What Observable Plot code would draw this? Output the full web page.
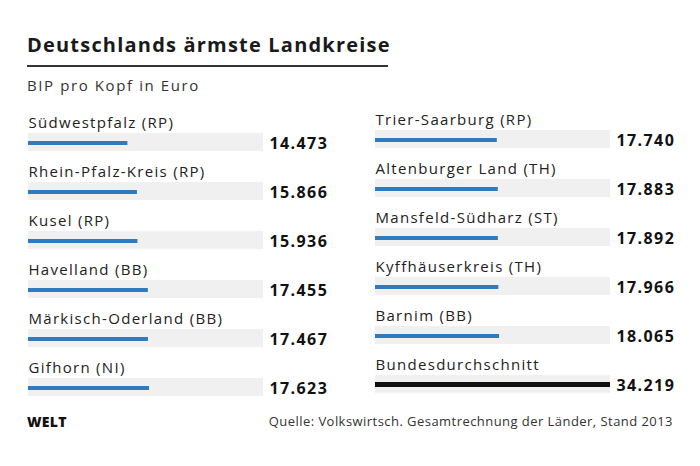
<!DOCTYPE html>
<html>
<head>
<meta charset="utf-8">
<script src="https://cdn.jsdelivr.net/npm/d3@7"></script>
<script src="https://cdn.jsdelivr.net/npm/@observablehq/plot@0.6"></script>
<style>
  html, body { margin: 0; padding: 0; background: #fff; }
  #wrap { position: relative; width: 700px; height: 466px; font-family: "Open Sans", sans-serif; color: #222; overflow: hidden; }
  #title { position: absolute; left: 27px; top: 33px; font-size: 20px; font-weight: 700; line-height: 24px; letter-spacing: 1.2px; white-space: nowrap; color: #1a1a1a; }
  #rule { position: absolute; left: 27px; top: 65px; width: 361px; height: 2px; background: #333; }
  #subtitle { position: absolute; left: 27px; top: 75px; font-size: 15px; line-height: 20px; letter-spacing: 1.6px; color: #333; white-space: nowrap; }
  #chart { position: absolute; left: 0; top: 100px; }
  #chart svg text { letter-spacing: 1.3px; }
  #chart svg g[font-weight="bold"] text { letter-spacing: 1.4px; }
  #logo { position: absolute; left: 27px; top: 414px; font-size: 14px; font-weight: 800; line-height: 16px; letter-spacing: 0.3px; color: #111; }
  #source { position: absolute; right: 27px; top: 413px; font-size: 13px; line-height: 16px; letter-spacing: 0.45px; color: #333; white-space: nowrap; }
</style>
</head>
<body>
<div id="wrap">
  <div id="title">Deutschlands ärmste Landkreise</div>
  <div id="rule"></div>
  <div id="subtitle">BIP pro Kopf in Euro</div>
  <div id="chart"></div>
  <div id="logo">WELT</div>
  <div id="source">Quelle: Volkswirtsch. Gesamtrechnung der Länder, Stand 2013</div>
</div>
<script>
const leftNames = ["Südwestpfalz (RP)", "Rhein-Pfalz-Kreis (RP)", "Kusel (RP)", "Havelland (BB)", "Märkisch-Oderland (BB)", "Gifhorn (NI)"];
const leftValues = [14473, 15866, 15936, 17455, 17467, 17623];
const rightNames = ["Trier-Saarburg (RP)", "Altenburger Land (TH)", "Mansfeld-Südharz (ST)", "Kyffhäuserkreis (TH)", "Barnim (BB)", "Bundesdurchschnitt"];
const rightValues = [17740, 17883, 17892, 17966, 18065, 34219];
const averageName = "Bundesdurchschnitt";

const rowsL = leftNames.map((name, i) => ({name, value: leftValues[i], col: 0, row: i}));
const rowsR = rightNames.map((name, i) => ({name, value: rightValues[i], col: 1, row: i}));
const maxValue = d3.max([...leftValues, ...rightValues]);

const fmt = d3.formatLocale({decimal: ",", thousands: ".", grouping: [3], currency: ["", "€"]}).format(",d");

function columnMarks(rows, off) {
  const normal = rows.filter(d => d.name !== averageName);
  const avg = rows.filter(d => d.name === averageName);
  return [
    Plot.barX(rows, {fx: "col", fy: "row", x1: 0, x2: () => maxValue, fill: "#f0f0f0", insetTop: 26, insetBottom: 5, dy: off}),
    Plot.barX(normal, {fx: "col", fy: "row", x: "value", fill: "#2e7cbf", insetTop: 34, insetBottom: 11, dy: off}),
    Plot.barX(avg, {fx: "col", fy: "row", x: "value", fill: "#111", insetTop: 33, insetBottom: 11, dy: off}),
    Plot.text(rows, {fx: "col", fy: "row", text: "name", frameAnchor: "top-left", textAnchor: "start", lineAnchor: "bottom", dy: 20 + off, fontSize: 15, fill: "#222"}),
    Plot.text(rows, {fx: "col", fy: "row", text: d => fmt(d.value), frameAnchor: "top-right", textAnchor: "start", lineAnchor: "bottom", dx: 6, dy: 41 + off, fontSize: 16, fontWeight: "bold", fill: "#111"})
  ];
}

const chart = Plot.plot({
  width: 700,
  height: 302,
  marginLeft: 27,
  marginRight: 89,
  marginTop: 6,
  marginBottom: 1,
  style: {fontFamily: "'Open Sans', sans-serif", background: "transparent"},
  fx: {domain: [0, 1], paddingInner: 0.3218, paddingOuter: 0, axis: null},
  fy: {domain: [0, 1, 2, 3, 4, 5], paddingInner: 0, paddingOuter: 0, axis: null},
  x: {domain: [0, maxValue], axis: null},
  marks: [
    ...columnMarks(rowsL, 0),
    ...columnMarks(rowsR, -3)
  ]
});
document.getElementById("chart").appendChild(chart);
</script>
</body>
</html>
